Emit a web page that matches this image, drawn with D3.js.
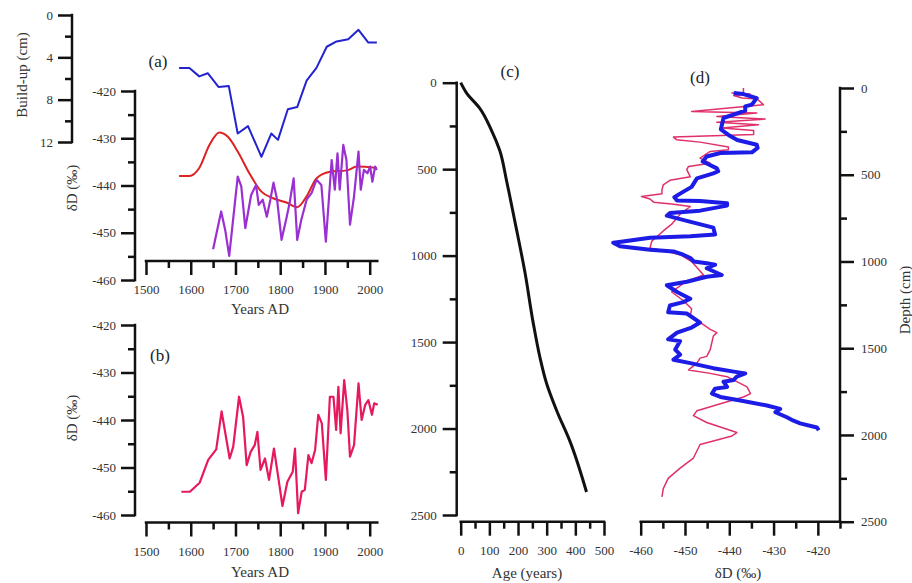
<!DOCTYPE html>
<html>
<head>
<meta charset="utf-8">
<script src="https://cdn.jsdelivr.net/npm/d3@7"></script>
<style>
  html, body { margin: 0; padding: 0; background: #fff; }
  svg { display: block; }
</style>
</head>
<body>
<svg id="chart" width="912" height="583"></svg>
<script>
// ---- panel (a): build-up curve (cm)
const buildYears = [1574, 1597, 1619, 1638, 1662, 1685, 1705, 1728, 1758, 1780, 1795, 1817, 1838, 1859, 1881, 1904, 1926, 1952, 1975, 1997, 2016];
const buildUp = [5.0, 5.0, 5.8, 5.5, 6.8, 6.7, 11.2, 10.5, 13.4, 11.2, 11.8, 8.9, 8.7, 6.2, 5.0, 3.0, 2.5, 2.3, 1.4, 2.6, 2.6];

// ---- panel (a): smoothed dD (red)
const smoothYears = [1574, 1597, 1619, 1642, 1664, 1683, 1705, 1731, 1758, 1784, 1814, 1838, 1859, 1881, 1911, 1949, 1971, 2016];
const smoothDD = [-438.0, -438.0, -436.3, -431.4, -428.8, -429.7, -432.8, -437.4, -441.3, -442.7, -443.6, -444.6, -442.3, -438.5, -437.1, -436.8, -436.0, -436.3];

// ---- panel (a): dD record (purple)
const purpleYears = [1650, 1668, 1677, 1686, 1705, 1713, 1722, 1735, 1746, 1752, 1761, 1770, 1778, 1785, 1793, 1803, 1814, 1821, 1830, 1838, 1847, 1859, 1870, 1881, 1892, 1902, 1915, 1922, 1928, 1933, 1941, 1948, 1956, 1965, 1975, 1980, 1987, 1995, 2001, 2006, 2012, 2016];
const purpleDD = [-453.5, -445.5, -449.4, -454.9, -438.1, -440.2, -449.0, -442.0, -439.9, -444.1, -443.0, -446.6, -443.0, -439.4, -443.0, -451.5, -446.9, -443.7, -438.5, -451.5, -447.3, -443.0, -441.6, -438.8, -439.9, -451.9, -434.6, -440.9, -433.2, -440.9, -431.4, -434.6, -448.3, -442.3, -432.8, -440.9, -436.7, -437.4, -436.0, -439.2, -436.0, -436.7];

// ---- panel (b): dD record (pink)
const pinkYears = [1579, 1598, 1620, 1639, 1657, 1669, 1687, 1695, 1708, 1717, 1725, 1734, 1743, 1749, 1756, 1766, 1775, 1786, 1796, 1805, 1816, 1828, 1833, 1840, 1848, 1855, 1863, 1870, 1878, 1885, 1893, 1902, 1911, 1919, 1925, 1930, 1935, 1943, 1950, 1956, 1965, 1975, 1982, 1990, 1997, 2005, 2010, 2018];
const pinkDD = [-455.1, -455.1, -453.2, -448.4, -446.2, -438.2, -448.1, -445.6, -435.1, -439.3, -449.5, -446.7, -445.3, -442.5, -450.5, -448.1, -452.6, -446.0, -452.3, -458.1, -453.0, -450.9, -446.0, -459.6, -455.1, -454.7, -447.4, -449.1, -446.3, -438.9, -440.7, -452.6, -435.1, -435.1, -442.1, -433.0, -442.8, -431.6, -437.9, -447.7, -445.3, -432.3, -440.0, -436.8, -435.8, -438.9, -436.5, -436.8];

// ---- panel (c): age-depth model
const ageYears = [0, 20, 66, 107, 136, 160, 189, 224, 253, 276, 300, 335, 381, 439];
const ageDepth = [0, 59, 147, 274, 391, 567, 802, 1095, 1389, 1585, 1741, 1897, 2073, 2367];

// ---- panel (d): dD against depth, blue (thick) and pink (thin)
const blueDepth = [29, 35, 58, 96, 106, 131, 173, 238, 277, 300, 327, 345, 371, 375, 395, 424, 463, 480, 492, 521, 570, 609, 630, 649, 652, 664, 678, 707, 721, 736, 766, 805, 844, 854, 863, 885, 892, 912, 932, 942, 961, 980, 1000, 1010, 1019, 1039, 1078, 1088, 1117, 1137, 1176, 1215, 1234, 1254, 1293, 1300, 1352, 1381, 1410, 1449, 1459, 1508, 1537, 1566, 1586, 1615, 1635, 1645, 1664, 1683, 1693, 1723, 1733, 1762, 1781, 1801, 1830, 1850, 1869, 1898, 1918, 1933, 1957, 1973];
const blueDD = [-439.0, -436.8, -433.8, -434.9, -436.4, -436.4, -441.3, -441.9, -439.8, -438.2, -433.8, -433.6, -434.9, -442.0, -445.1, -446.0, -442.8, -442.5, -443.6, -447.3, -448.5, -451.1, -452.4, -451.8, -446.6, -440.5, -440.5, -446.6, -453.4, -454.1, -449.6, -443.6, -443.2, -448.8, -457.9, -464.0, -466.2, -464.7, -457.9, -452.6, -450.4, -448.8, -448.0, -445.1, -443.2, -445.1, -441.7, -445.1, -449.6, -454.1, -451.8, -448.8, -450.4, -453.4, -453.8, -449.6, -446.6, -448.5, -451.8, -453.8, -451.1, -452.2, -451.1, -452.6, -448.8, -443.6, -439.0, -436.4, -438.3, -439.0, -441.3, -440.5, -443.2, -443.9, -442.0, -437.5, -431.5, -428.5, -429.6, -427.0, -425.5, -424.0, -420.2, -419.8];

const redDepth = [0, 29, 29, 35, 43, 58, 63, 96, 135, 144, 164, 179, 198, 212, 231, 245, 268, 283, 298, 312, 340, 356, 366, 404, 434, 452, 471, 512, 532, 558, 587, 609, 625, 640, 658, 668, 683, 727, 785, 824, 883, 922, 942, 961, 1000, 1078, 1117, 1176, 1225, 1273, 1312, 1391, 1410, 1430, 1508, 1547, 1557, 1586, 1625, 1645, 1664, 1723, 1762, 1781, 1820, 1860, 1889, 1928, 1967, 1986, 2006, 2035, 2055, 2133, 2191, 2250, 2309, 2357];
const redDD = [-436.8, -436.8, -439.4, -435.3, -439.0, -437.1, -433.7, -432.3, -448.5, -433.8, -442.8, -431.9, -442.8, -433.4, -441.7, -434.5, -434.5, -452.6, -451.9, -446.6, -440.2, -440.2, -444.3, -446.6, -444.3, -449.2, -449.6, -448.8, -453.4, -454.9, -455.2, -455.2, -459.8, -457.9, -457.1, -453.0, -448.8, -451.1, -453.0, -454.9, -457.5, -457.9, -454.1, -451.1, -448.5, -445.8, -449.9, -453.0, -450.4, -448.5, -448.8, -444.3, -442.8, -443.6, -444.3, -445.1, -446.6, -447.3, -449.2, -444.3, -440.5, -436.0, -435.2, -436.8, -442.0, -447.3, -448.1, -445.1, -440.5, -438.3, -439.4, -443.6, -446.6, -448.1, -451.1, -453.8, -454.9, -455.2];

// tick values
const yearTicks = [1500, 1600, 1700, 1800, 1900, 2000];
const yearMinor = [1550, 1650, 1750, 1850, 1950];
const buildTicks = [0, 4, 8, 12];
const buildMinor = [2, 6, 10];
const ddTicks = [-420, -430, -440, -450, -460];
const ddMinor = [-425, -435, -445, -455];
const depthTicks = [0, 500, 1000, 1500, 2000, 2500];
const depthMinor = [250, 750, 1250, 1750, 2250];
const ageTicks = [0, 100, 200, 300, 400, 500];
const ageMinor = [50, 150, 250, 350, 450];
const ddTicksD = [-460, -450, -440, -430, -420];
const ddMinorD = [-455, -445, -435, -425, -415];

const FONT = '"Liberation Serif", "Times New Roman", serif';
const svg = d3.select('#chart');
svg.append('rect').attr('width', 912).attr('height', 583).attr('fill', '#fff');

// style an axis group: thick black lines, serif labels
function styleAxis(g) {
    g.selectAll('line')
        .attr('x1', 0).attr('y1', 0)
        .attr('stroke', '#111').attr('stroke-width', 2.5);
    g.selectAll('text').attr('font-family', FONT).attr('font-size', 13).attr('fill', '#333');
}

// axis with long labelled ticks and short unlabelled ones
function drawAxis(maker, scale, major, minor, x, y, pad, vertical) {
    const g = svg.append('g').attr('transform', `translate(${x},${y})`);
    g.call(maker(scale).tickValues(minor).tickSize(7).tickSizeOuter(0).tickFormat(''));
    styleAxis(g);
    // axis spine as a plain line
    g.select('.domain').remove();
    const r = scale.range();
    g.append('line')
        .attr('x1', vertical ? 0 : r[0]).attr('x2', vertical ? 0 : r[1])
        .attr('y1', vertical ? r[0] : 0).attr('y2', vertical ? r[1] : 0)
        .attr('stroke', '#111').attr('stroke-width', 2.5)
        .attr('stroke-linecap', 'square');
    const g2 = svg.append('g').attr('transform', `translate(${x},${y})`);
    g2.call(maker(scale).tickValues(major).tickSize(14).tickSizeOuter(0).tickPadding(pad).tickFormat(d => String(d)));
    g2.select('.domain').remove();
    styleAxis(g2);
}

function title(text, x, y, rotate) {
    svg.append('text')
        .attr('transform', `translate(${x},${y})` + (rotate ? ' rotate(-90)' : ''))
        .attr('text-anchor', 'middle')
        .attr('dy', rotate ? 0 : '0.35em')
        .attr('font-family', FONT)
        .attr('font-size', 15)
        .attr('fill', '#333')
        .text(text);
}

function panelLabel(text, x, y) {
    svg.append('text').attr('x', x).attr('y', y)
        .attr('text-anchor', 'middle').attr('dy', '0.35em')
        .attr('font-family', FONT).attr('font-size', 17).attr('fill', '#222')
        .text(text);
}

function drawLine(xs, ys, fx, fy, color, width, curve) {
    const pts = xs.map((v, i) => [v, ys[i]]);
    const line = d3.line().x(d => fx(d[0])).y(d => fy(d[1]));
    if (curve) line.curve(curve);
    svg.append('path').datum(pts)
        .attr('d', line)
        .attr('fill', 'none')
        .attr('stroke', color)
        .attr('stroke-width', width)
        .attr('stroke-linejoin', 'round');
}

// ---------- panel (a)
const xYearA = d3.scaleLinear().domain([1500, 2017]).range([146, 377.3]);
const yBuild = d3.scaleLinear().domain([0, 12]).range([15, 142]);
const yDDA = d3.scaleLinear().domain([-420, -460]).range([91, 280]);

drawAxis(d3.axisLeft, yBuild, buildTicks, buildMinor, 72, 0, 5, true);
drawAxis(d3.axisLeft, yDDA, ddTicks, ddMinor, 135, 0, 5, true);
drawAxis(d3.axisBottom, xYearA, yearTicks, yearMinor, 0, 261, 10, false);

drawLine(buildYears, buildUp, xYearA, yBuild, '#2424cf', 2);
drawLine(smoothYears, smoothDD, xYearA, yDDA, '#dd2222', 2, d3.curveMonotoneX);
drawLine(purpleYears, purpleDD, xYearA, yDDA, '#9b30d2', 2.2);

title('Build-up (cm)', 27, 75, true);
title('δD (‰)', 77, 188, true);
title('Years AD', 260, 309);
panelLabel('(a)', 158, 61);

// ---------- panel (b)
const yDDB = d3.scaleLinear().domain([-420, -460]).range([325, 515]);
drawAxis(d3.axisLeft, yDDB, ddTicks, ddMinor, 135, 0, 5, true);
drawAxis(d3.axisBottom, xYearA, yearTicks, yearMinor, 0, 522.5, 10, false);
drawLine(pinkYears, pinkDD, xYearA, yDDB, '#e6195f', 2.2);
title('δD (‰)', 77, 418, true);
title('Years AD', 260, 572);
panelLabel('(b)', 160, 355);

// ---------- panel (c)
const xAge = d3.scaleLinear().domain([0, 500]).range([460.7, 604]);
const yDepthC = d3.scaleLinear().domain([0, 2500]).range([82.7, 515]);
drawAxis(d3.axisLeft, yDepthC, depthTicks, depthMinor, 456.7, 0, 6, true);
drawAxis(d3.axisBottom, xAge, ageTicks, ageMinor, 0, 521.7, 10, false);
drawLine(ageYears, ageDepth, xAge, yDepthC, '#111', 3, d3.curveMonotoneY);
title('Age (years)', 527, 573);
panelLabel('(c)', 510, 71);

// ---------- panel (d)
const xDDD = d3.scaleLinear().domain([-460, -415]).range([640.7, 840]);
const yDepthD = d3.scaleLinear().domain([0, 2500]).range([88, 521.7]);
drawAxis(d3.axisRight, yDepthD, depthTicks, depthMinor, 840, 0, 7, true);
drawAxis(d3.axisBottom, xDDD, ddTicksD, ddMinorD, 0, 521.7, 10, false);
drawLine(redDD, redDepth, xDDD, yDepthD, '#e0306b', 1.5);
drawLine(blueDD, blueDepth, xDDD, yDepthD, '#1c1ce6', 4);
title('δD (‰)', 738, 573);
title('Depth (cm)', 910, 300, true);
panelLabel('(d)', 700, 77);
</script>
</body>
</html>
